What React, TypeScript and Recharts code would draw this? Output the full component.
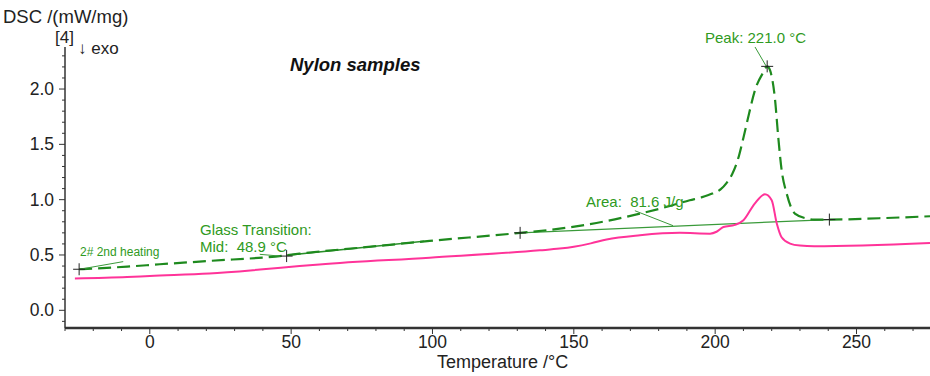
import React from 'react';
import {
  ComposedChart,
  Line,
  Scatter,
  XAxis,
  YAxis,
  ReferenceLine,
} from 'recharts';

// sample 2# (2nd heating), dashed green
const GREEN_T = [-25, -8, 3.5, 21, 48.4, 53, 75, 99, 131, 145, 161.6, 173.4, 185, 191, 195, 199, 202, 204, 206, 208, 210, 212, 214.1, 217, 218.4, 219.4, 221.2, 222.3, 223.5, 225.3, 228.2, 232.4, 235, 240.4, 258, 276];
const GREEN_V = [0.371, 0.395, 0.416, 0.446, 0.497, 0.512, 0.567, 0.627, 0.70, 0.738, 0.807, 0.874, 0.95, 0.995, 1.02, 1.055, 1.095, 1.15, 1.23, 1.36, 1.56, 1.78, 1.99, 2.15, 2.205, 2.17, 1.90, 1.57, 1.27, 1.055, 0.874, 0.83, 0.82, 0.82, 0.832, 0.85];

// second sample, pink
const PINK_T = [-26.5, -8, 0, 21, 39, 53, 60, 99, 138, 145, 150, 156, 161.6, 173.4, 187.5, 198.2, 200.5, 202.9, 207, 210, 214, 217.6, 220, 221.8, 223.5, 226.5, 230, 235, 276];
const PINK_V = [0.287, 0.30, 0.31, 0.332, 0.368, 0.40, 0.415, 0.476, 0.542, 0.558, 0.575, 0.605, 0.64, 0.678, 0.70, 0.693, 0.71, 0.753, 0.772, 0.814, 0.965, 1.049, 0.995, 0.784, 0.66, 0.603, 0.585, 0.579, 0.608];

// evaluation marks
const CROSS_T = [-25, 48.4, 131, 218.4, 240.4];
const CROSS_V = [0.371, 0.49, 0.70, 2.205, 0.82];

// integration baseline and glass-transition tangent
const BASELINE = [[131, 0.70], [240.4, 0.82]];
const TG_TANGENT = [[48.4, 0.497], [97, 0.625]];

// leader lines from labels
const LEADERS = [
  [[-24.8, 0.371], [-9.4, 0.44]],
  [[38.9, 0.506], [46, 0.49]],
  [[171.6, 0.90], [185.1, 0.765]],
  [[214.1, 2.38], [218.2, 2.20]],
];

const X_TICKS = [-30, -20, -10, 0, 10, 20, 30, 40, 50, 60, 70, 80, 90, 100, 110, 120, 130, 140, 150, 160, 170, 180, 190, 200, 210, 220, 230, 240, 250, 260, 270];
const X_LABELS = [0, 50, 100, 150, 200, 250];
const Y_TICKS = [-0.1, 0, 0.1, 0.2, 0.3, 0.4, 0.5, 0.6, 0.7, 0.8, 0.9, 1.0, 1.1, 1.2, 1.3, 1.4, 1.5, 1.6, 1.7, 1.8, 1.9, 2.0, 2.1, 2.2, 2.3];
const Y_LABELS = [0, 0.5, 1.0, 1.5, 2.0];

const green = GREEN_T.map((t, i) => ({ t, v: GREEN_V[i] }));
const pink = PINK_T.map((t, i) => ({ t, v: PINK_V[i] }));
const crosses = CROSS_T.map((t, i) => ({ t, v: CROSS_V[i] }));
const toPts = (seg: number[][]) => seg.map(([t, v]) => ({ t, v }));

const FONT = '"Liberation Sans", Arial, sans-serif';
const TXT_GREEN = '#2f9a22';
const AXIS = '#333';

const XTick = (props: any) => {
  const { x, y, payload } = props;
  const major = X_LABELS.includes(payload.value);
  return (
    <g>
      <line x1={x} x2={x} y1={y} y2={y + (major ? 6 : 3)} stroke={AXIS} strokeWidth={1} />
      {major && (
        <text x={x} y={y + 20} textAnchor="middle" fontSize={17.5} fontFamily={FONT} fill="#222">
          {payload.value}
        </text>
      )}
    </g>
  );
};

const YTick = (props: any) => {
  const { x, y, payload } = props;
  const major = Y_LABELS.some((l) => Math.abs(l - payload.value) < 1e-6);
  return (
    <g>
      <line x1={x} x2={x - (major ? 6 : 3)} y1={y} y2={y} stroke={AXIS} strokeWidth={1} />
      {major && (
        <text x={x - 11} y={y + 6} textAnchor="end" fontSize={17.5} fontFamily={FONT} fill="#222">
          {payload.value.toFixed(1)}
        </text>
      )}
    </g>
  );
};

const Plus = (props: any) => {
  const { cx, cy } = props;
  return (
    <g>
      <line x1={cx - 6} x2={cx + 6} y1={cy} y2={cy} stroke="#222" strokeWidth={1} />
      <line x1={cx} x2={cx} y1={cy - 6} y2={cy + 6} stroke="#222" strokeWidth={1} />
    </g>
  );
};

const Label = ({ x, y, size, children, style }: any) => (
  <div
    style={{
      position: 'absolute',
      left: x,
      top: y - size * 0.58,
      fontSize: size,
      lineHeight: 1.15,
      fontFamily: FONT,
      whiteSpace: 'pre',
      ...style,
    }}
  >
    {children}
  </div>
);

export default function App() {
  return (
    <div style={{ position: 'absolute', left: 0, top: 0, width: 930, height: 376, background: '#fff' }}>
      <ComposedChart width={930} height={376} margin={{ top: 47, right: 0, bottom: 0, left: 0 }}>
        <XAxis
          dataKey="t"
          type="number"
          domain={[-30, 276]}
          allowDataOverflow
          ticks={X_TICKS}
          interval={0}
          tick={<XTick />}
          tickLine={false}
          tickSize={0}
          tickMargin={0}
          height={48}
          axisLine={{ stroke: AXIS, strokeWidth: 2.5 }}
        />
        <YAxis
          type="number"
          domain={[-0.16, 2.38]}
          allowDataOverflow
          ticks={Y_TICKS}
          interval={0}
          tick={<YTick />}
          tickLine={false}
          tickSize={0}
          tickMargin={0}
          width={65}
          axisLine={{ stroke: AXIS, strokeWidth: 1.5 }}
        />
        <Line data={toPts(BASELINE)} dataKey="v" type="linear" stroke="#3a9a3a" strokeWidth={1.2} dot={false} isAnimationActive={false} />
        <Line data={toPts(TG_TANGENT)} dataKey="v" type="linear" stroke="#2a8f2a" strokeWidth={1.5} dot={false} isAnimationActive={false} />
        <Line data={pink} dataKey="v" type="monotone" stroke="#ff3399" strokeWidth={2} dot={false} isAnimationActive={false} />
        <Line data={green} dataKey="v" type="monotone" stroke="#1e8a1e" strokeWidth={2.2} strokeDasharray="13 6" dot={false} isAnimationActive={false} />
        {LEADERS.map((seg, i) => (
          <ReferenceLine
            key={i}
            segment={toPts(seg).map((p) => ({ x: p.t, y: p.v }))}
            stroke="#3a9a3a"
            strokeWidth={1}
            ifOverflow="visible"
          />
        ))}
        <Scatter data={crosses} dataKey="v" shape={<Plus />} isAnimationActive={false} />
      </ComposedChart>

      <Label x={3} y={17} size={18.5} style={{ color: '#222' }}>DSC /(mW/mg)</Label>
      <Label x={55} y={38} size={17} style={{ color: '#222' }}>[4]</Label>
      <Label x={78} y={49} size={17} style={{ color: '#222' }}>↓ exo</Label>
      <Label x={437} y={362} size={18} style={{ color: '#222' }}>Temperature /°C</Label>
      <Label x={290} y={65} size={18.5} style={{ color: '#111', fontWeight: 'bold', fontStyle: 'italic' }}>Nylon samples</Label>

      <Label x={80} y={253} size={12} style={{ color: TXT_GREEN }}>2# 2nd heating</Label>
      <Label x={200} y={230} size={15} style={{ color: TXT_GREEN }}>Glass Transition:</Label>
      <Label x={200} y={246.5} size={15} style={{ color: TXT_GREEN }}>Mid:  48.9 °C</Label>
      <Label x={586} y={202} size={15} style={{ color: TXT_GREEN }}>Area:  81.6 J/g</Label>
      <Label x={705} y={38} size={15} style={{ color: TXT_GREEN }}>Peak: 221.0 °C</Label>
    </div>
  );
}
